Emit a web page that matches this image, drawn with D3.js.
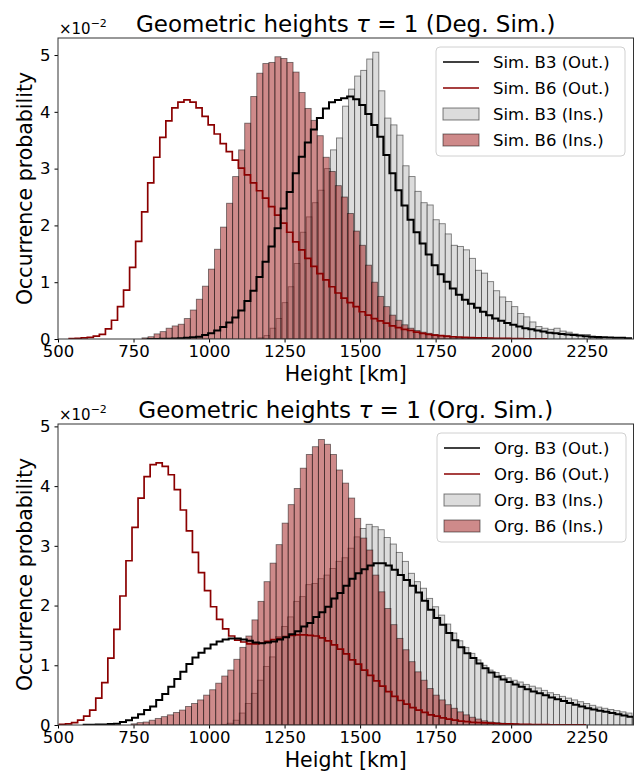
<!DOCTYPE html>
<html>
<head>
<meta charset="utf-8">
<script src="https://cdn.jsdelivr.net/npm/d3@7"></script>
<style>
  body { margin: 0; background: #fff; }
  text { font-family: "DejaVu Sans", sans-serif; fill: #000; }
</style>
</head>
<body>
<script>
const svgWidth = 639;
const svgHeight = 773;

const binWidth = 20;          // km
const xTicks = [500, 750, 1000, 1250, 1500, 1750, 2000, 2250];
const yTicks = [0, 1, 2, 3, 4, 5];

// values are occurrence probability in units of 1e-2, one per bin, starting at *Start (km)
// --- Deg. Sim. ---
const degLabels = ['Sim. B3 (Out.)', 'Sim. B6 (Out.)', 'Sim. B3 (Ins.)', 'Sim. B6 (Ins.)'];

const degB3OutStart = 797;
const degB3Out = [0.001, 0.002, 0.003, 0.005, 0.01, 0.015, 0.02, 0.03, 0.04, 0.07,
  0.10, 0.15, 0.21, 0.29, 0.38, 0.50, 0.67, 0.85, 1.09, 1.36,
  1.63, 1.95, 2.30, 2.59, 2.92, 3.21, 3.46, 3.69, 3.89, 4.06,
  4.17, 4.21, 4.24, 4.27, 4.22, 4.12, 3.96, 3.77, 3.56, 3.24,
  2.92, 2.62, 2.35, 2.10, 1.88, 1.68, 1.49, 1.30, 1.14, 1.01,
  0.89, 0.78, 0.69, 0.62, 0.55, 0.48, 0.42, 0.36, 0.32, 0.28,
  0.25, 0.22, 0.19, 0.17, 0.15, 0.13, 0.11, 0.10, 0.09, 0.08,
  0.07, 0.06, 0.05, 0.04, 0.035, 0.03, 0.025, 0.02, 0.02, 0.015];

const degB6OutStart = 537;
const degB6Out = [0.005, 0.01, 0.02, 0.03, 0.05, 0.08, 0.18, 0.33, 0.57, 0.86,
  1.26, 1.72, 2.24, 2.75, 3.20, 3.55, 3.84, 4.07, 4.17, 4.21,
  4.17, 4.07, 3.92, 3.77, 3.61, 3.44, 3.30, 3.15, 3.01, 2.89,
  2.75, 2.61, 2.48, 2.33, 2.18, 2.04, 1.88, 1.71, 1.57, 1.42,
  1.28, 1.15, 1.04, 0.92, 0.81, 0.72, 0.64, 0.57, 0.48, 0.42,
  0.36, 0.32, 0.28, 0.23, 0.20, 0.17, 0.15, 0.12, 0.10, 0.08,
  0.07, 0.06, 0.05, 0.04, 0.035, 0.03, 0.025, 0.02, 0.02, 0.015,
  0.01, 0.01, 0.01, 0.005, 0.005, 0.003, 0.002, 0.002, 0.001];

const degB3InsStart = 1162;
const degB3Ins = [0.02, 0.06, 0.19, 0.36, 0.64, 0.92, 1.33, 1.88, 2.15, 2.40,
  2.62, 3.00, 3.33, 3.54, 4.10, 4.40, 4.63, 4.73, 4.93, 5.05,
  4.37, 3.89, 3.77, 3.59, 3.05, 2.86, 2.60, 2.40, 2.36, 2.10,
  2.03, 1.85, 1.65, 1.63, 1.57, 1.42, 1.21, 1.16, 1.01, 0.85,
  0.74, 0.66, 0.57, 0.45, 0.39, 0.30, 0.22, 0.19, 0.17, 0.19,
  0.14, 0.12, 0.09, 0.07, 0.08, 0.03, 0.01];

const degB6InsStart = 778;
const degB6Ins = [0.02, 0.04, 0.09, 0.13, 0.19, 0.23, 0.26, 0.36, 0.51, 0.70,
  0.93, 1.23, 1.58, 1.97, 2.39, 2.86, 3.33, 3.80, 4.27, 4.68,
  4.85, 4.87, 4.97, 4.94, 4.87, 4.70, 4.34, 4.06, 3.85, 3.58,
  3.20, 2.95, 2.70, 2.50, 2.21, 1.90, 1.65, 1.30, 1.00, 0.75,
  0.57, 0.42, 0.33, 0.25, 0.19, 0.15, 0.12, 0.10, 0.08, 0.06,
  0.05, 0.04, 0.03, 0.025, 0.02, 0.015, 0.01, 0.01, 0.005];

// --- Org. Sim. ---
const orgLabels = ['Org. B3 (Out.)', 'Org. B6 (Out.)', 'Org. B3 (Ins.)', 'Org. B6 (Ins.)'];

const orgB3OutStart = 585;
const orgB3Out = [0.003, 0.005, 0.008, 0.01, 0.015, 0.02, 0.05, 0.08, 0.12, 0.18,
  0.25, 0.31, 0.42, 0.52, 0.64, 0.77, 0.89, 1.02, 1.13, 1.21,
  1.28, 1.35, 1.40, 1.43, 1.45, 1.45, 1.43, 1.41, 1.38, 1.37,
  1.38, 1.40, 1.43, 1.47, 1.52, 1.57, 1.65, 1.71, 1.81, 1.89,
  1.98, 2.12, 2.21, 2.33, 2.45, 2.54, 2.61, 2.67, 2.71, 2.71,
  2.67, 2.60, 2.51, 2.43, 2.33, 2.22, 2.08, 1.93, 1.79, 1.68,
  1.54, 1.42, 1.30, 1.20, 1.12, 1.03, 0.95, 0.88, 0.81, 0.76,
  0.72, 0.68, 0.64, 0.60, 0.56, 0.53, 0.50, 0.46, 0.43, 0.40,
  0.37, 0.34, 0.31, 0.28, 0.26, 0.24, 0.22, 0.20, 0.18, 0.16, 0.14];

const orgB6OutStart = 505;
const orgB6Out = [0.01, 0.02, 0.04, 0.08, 0.15, 0.25, 0.45, 0.71, 1.12, 1.60,
  2.16, 2.75, 3.31, 3.80, 4.16, 4.36, 4.39, 4.33, 4.19, 3.94,
  3.60, 3.25, 2.89, 2.55, 2.25, 1.98, 1.77, 1.61, 1.49, 1.42,
  1.39, 1.36, 1.36, 1.37, 1.40, 1.43, 1.45, 1.48, 1.50, 1.51,
  1.51, 1.50, 1.49, 1.46, 1.41, 1.34, 1.27, 1.19, 1.09, 1.02,
  0.92, 0.83, 0.74, 0.65, 0.56, 0.48, 0.41, 0.35, 0.29, 0.25,
  0.21, 0.17, 0.15, 0.12, 0.10, 0.08, 0.065, 0.055, 0.045, 0.04,
  0.035, 0.03, 0.025, 0.02, 0.018, 0.015, 0.012, 0.01, 0.008, 0.006,
  0.005, 0.004, 0.003, 0.003, 0.002, 0.002, 0.001];

const orgB3InsStart = 1040;
const orgB3Ins = [0.01, 0.03, 0.08, 0.20, 0.36, 0.53, 0.75, 0.98, 1.14, 1.48,
  1.65, 1.81, 2.07, 2.15, 2.35, 2.37, 2.45, 2.51, 2.62, 2.74,
  2.80, 2.96, 3.15, 3.29, 3.36, 3.32, 3.27, 3.14, 3.03, 2.89,
  2.74, 2.54, 2.40, 2.29, 2.12, 1.98, 1.84, 1.69, 1.54, 1.41,
  1.30, 1.20, 1.09, 1.00, 0.92, 0.88, 0.83, 0.79, 0.75, 0.72,
  0.68, 0.65, 0.62, 0.58, 0.54, 0.51, 0.48, 0.45, 0.42, 0.39,
  0.36, 0.33, 0.30, 0.28, 0.26, 0.24, 0.22, 0.20];

const orgB6InsStart = 742;
const orgB6Ins = [0.02, 0.04, 0.05, 0.08, 0.11, 0.14, 0.17, 0.21, 0.25, 0.31,
  0.36, 0.42, 0.50, 0.59, 0.70, 0.82, 0.92, 1.10, 1.30, 1.49,
  1.76, 2.07, 2.40, 2.71, 3.02, 3.38, 3.69, 3.96, 4.30, 4.53,
  4.66, 4.78, 4.70, 4.53, 4.27, 4.05, 3.80, 3.46, 3.13, 2.93,
  2.51, 2.23, 1.95, 1.68, 1.45, 1.26, 1.06, 0.89, 0.75, 0.61,
  0.50, 0.42, 0.34, 0.28, 0.22, 0.17, 0.13, 0.10, 0.07, 0.05,
  0.04, 0.03, 0.02, 0.02, 0.01, 0.01];

const svg = d3.select('body')
              .append('svg')
              .attr('width', svgWidth)
              .attr('height', svgHeight);

const panels = [
  {
    id: 'deg', top: 38, bottom: 339, yMax: 5.3, title: '(Deg. Sim.)', labels: degLabels,
    b3Out: [degB3OutStart, degB3Out], b6Out: [degB6OutStart, degB6Out],
    b3Ins: [degB3InsStart, degB3Ins], b6Ins: [degB6InsStart, degB6Ins],
    legend: { x: 436, y: 47 }
  },
  {
    id: 'org', top: 424, bottom: 725, yMax: 5.04, title: '(Org. Sim.)', labels: orgLabels,
    b3Out: [orgB3OutStart, orgB3Out], b6Out: [orgB6OutStart, orgB6Out],
    b3Ins: [orgB3InsStart, orgB3Ins], b6Ins: [orgB6InsStart, orgB6Ins],
    legend: { x: 437, y: 433 }
  }
];

const left = 58, right = 633.5;

function toBins(start, values) {
  return values.map((v, i) => ({ x0: start + i * binWidth, x1: start + (i + 1) * binWidth, v: v }));
}

function stepPoints(start, values) {
  let pts = [[start, 0]];
  values.forEach((v, i) => pts.push([start + i * binWidth, v]));
  const end = start + values.length * binWidth;
  pts.push([end, values[values.length - 1]]);
  pts.push([end, 0]);
  return pts;
}

panels.forEach(p => {
  const x = d3.scaleLinear().domain([500, 2405]).range([left, right]);
  const y = d3.scaleLinear().domain([0, p.yMax]).range([p.bottom, p.top]);

  const g = svg.append('g');

  g.append('clipPath').attr('id', 'clip-' + p.id)
    .append('rect')
    .attr('x', left).attr('y', p.top)
    .attr('width', right - left).attr('height', p.bottom - p.top);

  const plot = g.append('g').attr('clip-path', 'url(#clip-' + p.id + ')');

  // inside histograms (bars)
  const barSets = [
    { data: p.b3Ins, fill: '#dcdcdc', op: 1 },
    { data: p.b6Ins, fill: '#a52a2a', op: 0.55 }
  ];
  barSets.forEach(s => {
    plot.append('g')
      .selectAll('rect')
      .data(toBins(s.data[0], s.data[1]))
      .enter()
      .append('rect')
      .attr('x', d => x(d.x0))
      .attr('width', d => x(d.x1) - x(d.x0))
      .attr('y', d => y(d.v))
      .attr('height', d => y(0) - y(d.v))
      .attr('fill', s.fill)
      .attr('fill-opacity', s.op)
      .attr('stroke', '#000')
      .attr('stroke-opacity', 0.5)
      .attr('stroke-width', 0.9);
  });

  // outside histograms (step lines)
  const line = d3.line()
                 .x(d => x(d[0]))
                 .y(d => y(d[1]))
                 .curve(d3.curveStepAfter);
  plot.append('path')
    .datum(stepPoints(p.b6Out[0], p.b6Out[1]))
    .attr('d', line)
    .attr('fill', 'none')
    .attr('stroke', '#8b0000')
    .attr('stroke-width', 1.7);
  plot.append('path')
    .datum(stepPoints(p.b3Out[0], p.b3Out[1]))
    .attr('d', line)
    .attr('fill', 'none')
    .attr('stroke', '#000')
    .attr('stroke-width', 2);

  // axes
  const xAxis = g.append('g')
    .attr('transform', 'translate(0,' + p.bottom + ')')
    .call(d3.axisBottom(x).tickValues(xTicks).tickFormat(d3.format('d'))
            .tickSize(3.5).tickSizeOuter(0).tickPadding(3));
  const yAxis = g.append('g')
    .attr('transform', 'translate(' + left + ',0)')
    .call(d3.axisLeft(y).tickValues(yTicks).tickFormat(d3.format('d'))
            .tickSize(3.5).tickSizeOuter(0).tickPadding(4));
  [xAxis, yAxis].forEach(a => {
    a.select('.domain').remove();
    a.selectAll('text').attr('font-size', '16.5px').attr('font-family', '"DejaVu Sans", sans-serif').attr('fill', '#000');
    a.selectAll('line').attr('stroke', '#000');
  });

  // spines
  g.append('rect')
    .attr('x', left).attr('y', p.top)
    .attr('width', right - left).attr('height', p.bottom - p.top)
    .attr('fill', 'none')
    .attr('stroke', '#333')
    .attr('stroke-width', 1);

  // title
  const title = g.append('text')
    .attr('x', (left + right) / 2)
    .attr('y', p.top - 6)
    .attr('text-anchor', 'middle')
    .attr('font-size', '23px');
  title.append('tspan').text('Geometric heights ');
  title.append('tspan').attr('font-style', 'italic').text('τ');
  title.append('tspan').text(' = 1 ' + p.title);

  // offset text
  const off = g.append('text')
    .attr('x', left + 1)
    .attr('y', p.top - 4)
    .attr('font-size', '15px');
  off.append('tspan').text('×10');
  off.append('tspan').attr('dy', -7).attr('font-size', '11px').text('−2');

  // axis labels
  g.append('text')
    .attr('x', (left + right) / 2)
    .attr('y', p.bottom + 42)
    .attr('text-anchor', 'middle')
    .attr('font-size', '20.5px')
    .text('Height [km]');
  g.append('text')
    .attr('transform', 'translate(32,' + (p.top + p.bottom) / 2 + ') rotate(-90)')
    .attr('text-anchor', 'middle')
    .attr('font-size', '20.5px')
    .text('Occurrence probability');

  // legend
  const lg = g.append('g').attr('transform', 'translate(' + p.legend.x + ',' + p.legend.y + ')');
  lg.append('rect')
    .attr('width', 189).attr('height', 109)
    .attr('rx', 4)
    .attr('fill', '#fff').attr('fill-opacity', 0.8)
    .attr('stroke', '#d0d0d0');
  const items = [
    { type: 'line', color: '#000' },
    { type: 'line', color: '#8b0000' },
    { type: 'patch', color: '#dcdcdc', op: 1 },
    { type: 'patch', color: '#a52a2a', op: 0.55 }
  ];
  items.forEach((it, i) => {
    const cy = 15 + i * 26;
    if (it.type === 'line') {
      lg.append('line')
        .attr('x1', 7).attr('x2', 43).attr('y1', cy).attr('y2', cy)
        .attr('stroke', it.color).attr('stroke-width', i === 0 ? 1.6 : 1.4);
    } else {
      lg.append('rect')
        .attr('x', 7).attr('y', cy - 6).attr('width', 36).attr('height', 12)
        .attr('fill', it.color).attr('fill-opacity', it.op)
        .attr('stroke', '#000').attr('stroke-opacity', 0.5);
    }
    lg.append('text')
      .attr('x', 57).attr('y', cy + 6)
      .attr('font-size', '16.5px')
      .text(p.labels[i]);
  });
});
</script>
</body>
</html>
